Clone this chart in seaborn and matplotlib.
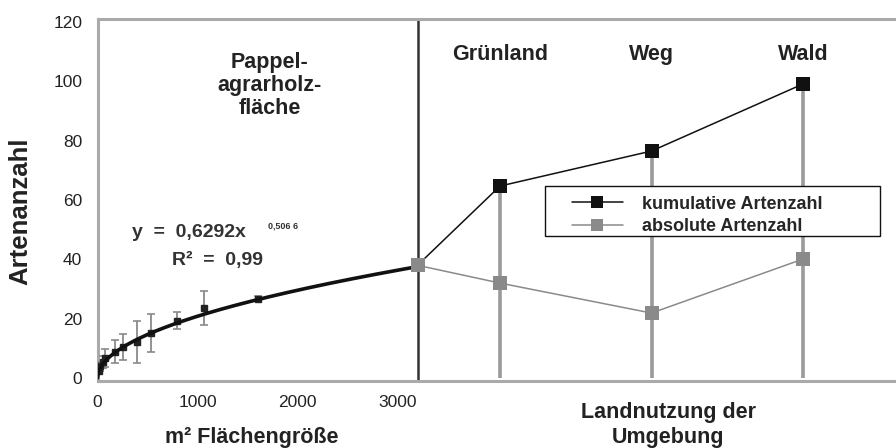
import numpy as np
import pandas as pd
import matplotlib
matplotlib.use("Agg")
import matplotlib.pyplot as plt
import seaborn as sns
from matplotlib.lines import Line2D
from matplotlib.patches import Rectangle

# Aufnahmeflaechen in der Pappel-Agrarholzflaeche (m²), Mittelwert und Streuung der Artenzahl
flaeche = [10, 25, 50, 70, 170, 250, 390, 530, 790, 1060, 1600]
arten_mittel = [2.5, 4.0, 5.5, 6.7, 8.9, 10.5, 12.2, 15.1, 19.3, 23.6, 26.8]
arten_fehler = [1.0, 1.5, 2.0, 3.0, 3.9, 4.5, 7.0, 6.4, 2.8, 5.7, 1.0]

# Potenzfunktion aus der Grafik: y = a * x^b
koeff_a = 0.6292
koeff_b = 0.5066
flaeche_gesamt = 3200

# Umgebung
umgebung = ["Grünland", "Weg", "Wald"]
start_arten = 38
kumulativ = [64.7, 76.5, 99.1]
absolut = [32.0, 21.9, 40.1]

x_ticks = [0, 1000, 2000, 3000]
y_ticks = [0, 20, 40, 60, 80, 100, 120]

sns.set_theme(style="white")
plt.rcParams["font.family"] = ["Liberation Sans", "DejaVu Sans"]

fig = plt.figure(figsize=(8.96, 4.48), dpi=100)
ax = fig.add_axes([97.5 / 896, 67 / 448, 1 - 97.5 / 896, 362 / 448])

# Lage der Umgebungskategorien rechts der Flaechengrenze
lage = [flaeche_gesamt + 825 + 1515 * i for i in range(len(umgebung))]

# Trendlinie
x_fit = np.linspace(0, flaeche_gesamt, 400)
ax.plot(x_fit, koeff_a * x_fit ** koeff_b, color="#111111", lw=2.6, zorder=4)

# Messwerte mit Fehlerbalken
ax.errorbar(flaeche, arten_mittel, yerr=arten_fehler, fmt="s", color="#222222",
            ecolor="#8a8a8a", elinewidth=1.3, capsize=3, capthick=1.2,
            markersize=4, zorder=3)

# Grenze der Flaeche
ax.axvline(flaeche_gesamt, color="#333333", lw=1.8, zorder=2)

# Fallinien der Umgebung
ax.vlines(lage, 0, kumulativ, color="#9a9a9a", lw=2.6, zorder=2)

df = pd.DataFrame({
    "x": [flaeche_gesamt] + lage,
    "kumulativ": [start_arten] + kumulativ,
    "absolut": [start_arten] + absolut,
})
sns.lineplot(data=df, x="x", y="kumulativ", color="#111111", lw=1.1, marker="s",
             markersize=10, markeredgewidth=0, ax=ax, zorder=5)
sns.lineplot(data=df, x="x", y="absolut", color="#8a8a8a", lw=1.1, marker="s",
             markersize=10, markeredgewidth=0, ax=ax, zorder=5)

ax.set_xlim(0, 7985)
ax.set_ylim(-1, 121)
ax.set_xticks(x_ticks)
ax.set_yticks(y_ticks)
ax.tick_params(length=0, labelsize=12.5, labelcolor="#222222")
ax.tick_params(axis="y", pad=11)
ax.tick_params(axis="x", pad=10)
ax.set_xlabel("")
ax.set_ylabel("Artenanzahl", fontsize=18.5, fontweight="bold", color="#222222")
ax.yaxis.set_label_coords(-0.082, 0.47)

for side in ["left", "bottom", "top"]:
    ax.spines[side].set_color("#aaaaaa")
    ax.spines[side].set_linewidth(2.2)
ax.spines["right"].set_visible(False)

# Beschriftungen
fett = dict(fontweight="bold", color="#222222", fontsize=15.5)
ax.text(1720, 98.5, "Pappel-\nagrarholz-\nfläche", ha="center", va="center",
        linespacing=1.13, **fett)
for name, xpos in zip(umgebung, lage):
    ax.text(xpos, 109, name, ha="center", va="center", **fett)

fig.text(252 / 896, 1 - 437 / 448, "m² Flächengröße", ha="center", va="center", **fett)
fig.text(668 / 896, 1 - 425 / 448, "Landnutzung der\nUmgebung", ha="center",
         va="center", linespacing=1.22, **fett)

# Gleichung
ax.text(345, 48.9, "y  =  0,6292x", ha="left", va="center", fontsize=14,
        fontweight="bold", color="#333333")
ax.text(1705, 51.4, "0,506 6", ha="left", va="center", fontsize=6.5,
        fontweight="bold", color="#333333")
ax.text(745, 39.6, "R²  =  0,99", ha="left", va="center", fontsize=14,
        fontweight="bold", color="#333333")

# Legende
ax.add_patch(Rectangle((0.5604, 0.4006), 0.4196, 0.1381, transform=ax.transAxes,
                       facecolor="white", edgecolor="#111111", lw=1.0, zorder=6))
handles = [
    Line2D([], [], color="#111111", lw=1.1, marker="s", markersize=8, markeredgewidth=0),
    Line2D([], [], color="#8a8a8a", lw=1.1, marker="s", markersize=8, markeredgewidth=0),
]
leg = ax.legend(handles, ["kumulative Artenzahl", "absolute Artenzahl"],
                loc="upper left", bbox_to_anchor=(0.583, 0.537), frameon=False,
                handlelength=2.8, handletextpad=1.1, labelspacing=0.3,
                borderpad=0.0, prop=dict(weight="bold", size=13))
leg.set_zorder(7)

fig.savefig("out.png", dpi=100)
